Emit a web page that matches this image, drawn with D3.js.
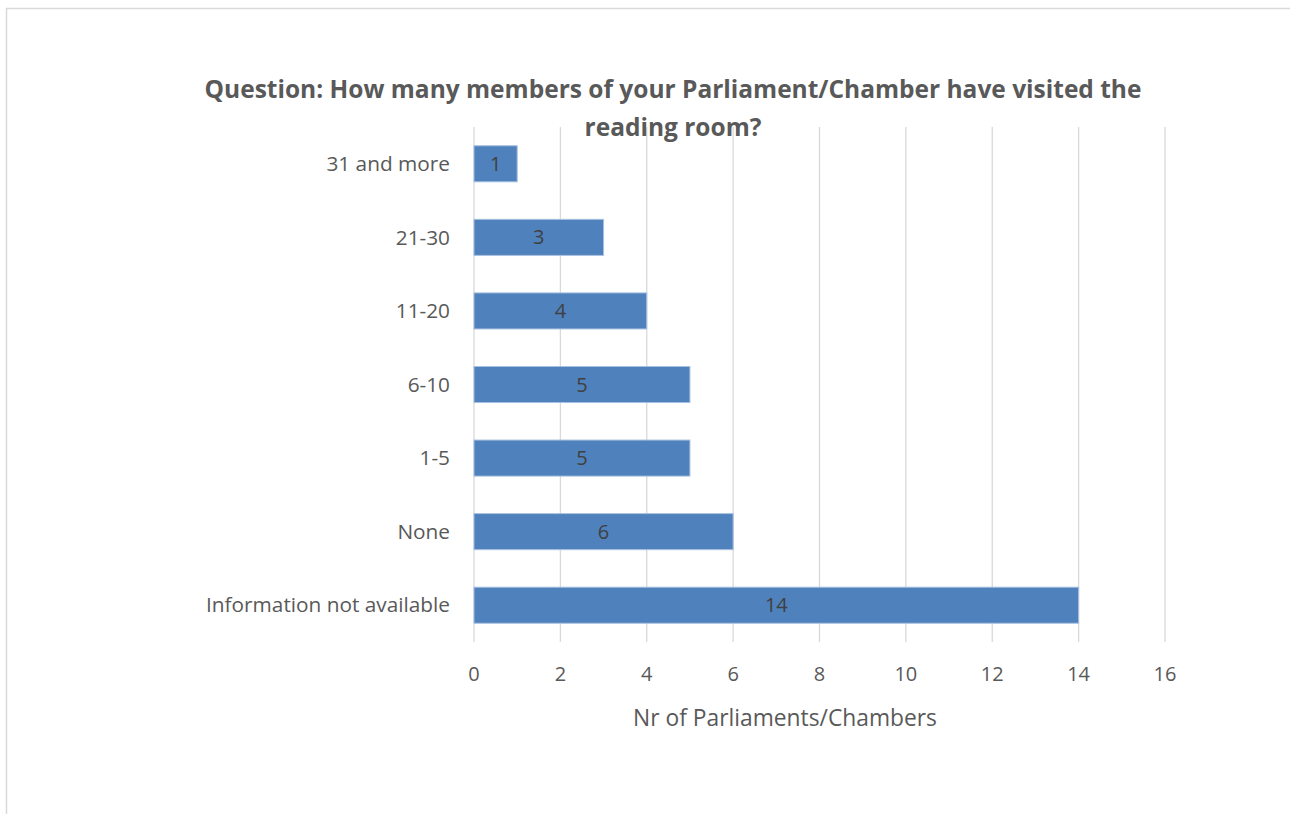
<!DOCTYPE html>
<html><head><meta charset="utf-8">
<script src="https://cdn.jsdelivr.net/npm/d3@7"></script>
<style>body{margin:0;background:#fff;} svg{display:block;}</style>
</head><body>
<svg id="c" width="1290" height="814"></svg>
<script>
const categories = ["31 and more","21-30","11-20","6-10","1-5","None","Information not available"];
const values = [1,3,4,5,5,6,14];
const xTicks = [0,2,4,6,8,10,12,14,16];
const titleLines = ["Question: How many members of your Parliament/Chamber have visited the","reading room?"];
const xAxisTitle = "Nr of Parliaments/Chambers";

const svg = d3.select("#c");
const font = "'Open Sans', sans-serif";
// outer border
svg.append("rect").attr("x",6.5).attr("y",8.5).attr("width",1300).attr("height",820)
  .attr("fill","none").attr("stroke","#d9d9d9").attr("stroke-width",1.5);

const x = d3.scaleLinear().domain([0,16]).range([474,1165]);
const y = d3.scaleBand().domain(categories).range([127,642]).paddingInner(0.51).paddingOuter(0.255);

const g = svg.append("g");
g.selectAll("line.grid").data(xTicks).join("line")
  .attr("x1",d=>x(d)).attr("x2",d=>x(d)).attr("y1",127).attr("y2",642)
  .attr("stroke","#d9d9d9").attr("stroke-width",1.3);

g.selectAll("rect.bar").data(values).join("rect")
  .attr("x",x(0)).attr("y",(d,i)=>y(categories[i]))
  .attr("width",d=>x(d)-x(0)).attr("height",y.bandwidth())
  .attr("fill","#4f81bd").attr("stroke","#a8c0df").attr("stroke-width",1);

g.selectAll("text.val").data(values).join("text")
  .attr("x",d=>(x(d)+x(0))/2).attr("y",(d,i)=>y(categories[i])+y.bandwidth()/2)
  .attr("dy","0.35em").attr("text-anchor","middle")
  .attr("font-family",font).attr("font-size",20).attr("fill","#404040").text(d=>d);

g.selectAll("text.cat").data(categories).join("text")
  .attr("x",450).attr("y",d=>y(d)+y.bandwidth()/2).attr("dy","0.35em")
  .attr("text-anchor","end").attr("font-family",font).attr("font-size",20.8)
  .attr("fill","#595959").text(d=>d);

g.selectAll("text.tick").data(xTicks).join("text")
  .attr("x",d=>x(d)).attr("y",674).attr("dy","0.35em").attr("text-anchor","middle")
  .attr("font-family",font).attr("font-size",20).attr("fill","#595959").text(d=>d);

svg.append("text").attr("x",785).attr("y",718).attr("dy","0.35em").attr("text-anchor","middle")
  .attr("font-family",font).attr("font-size",22.8).attr("fill","#595959").text(xAxisTitle);

svg.selectAll("text.title").data(titleLines).join("text")
  .attr("x",673).attr("y",(d,i)=>89+i*38).attr("dy","0.35em").attr("text-anchor","middle")
  .attr("font-family",font).attr("font-weight","bold").attr("font-size",24.5)
  .attr("fill","#595959").text(d=>d);
</script>
</body></html>
